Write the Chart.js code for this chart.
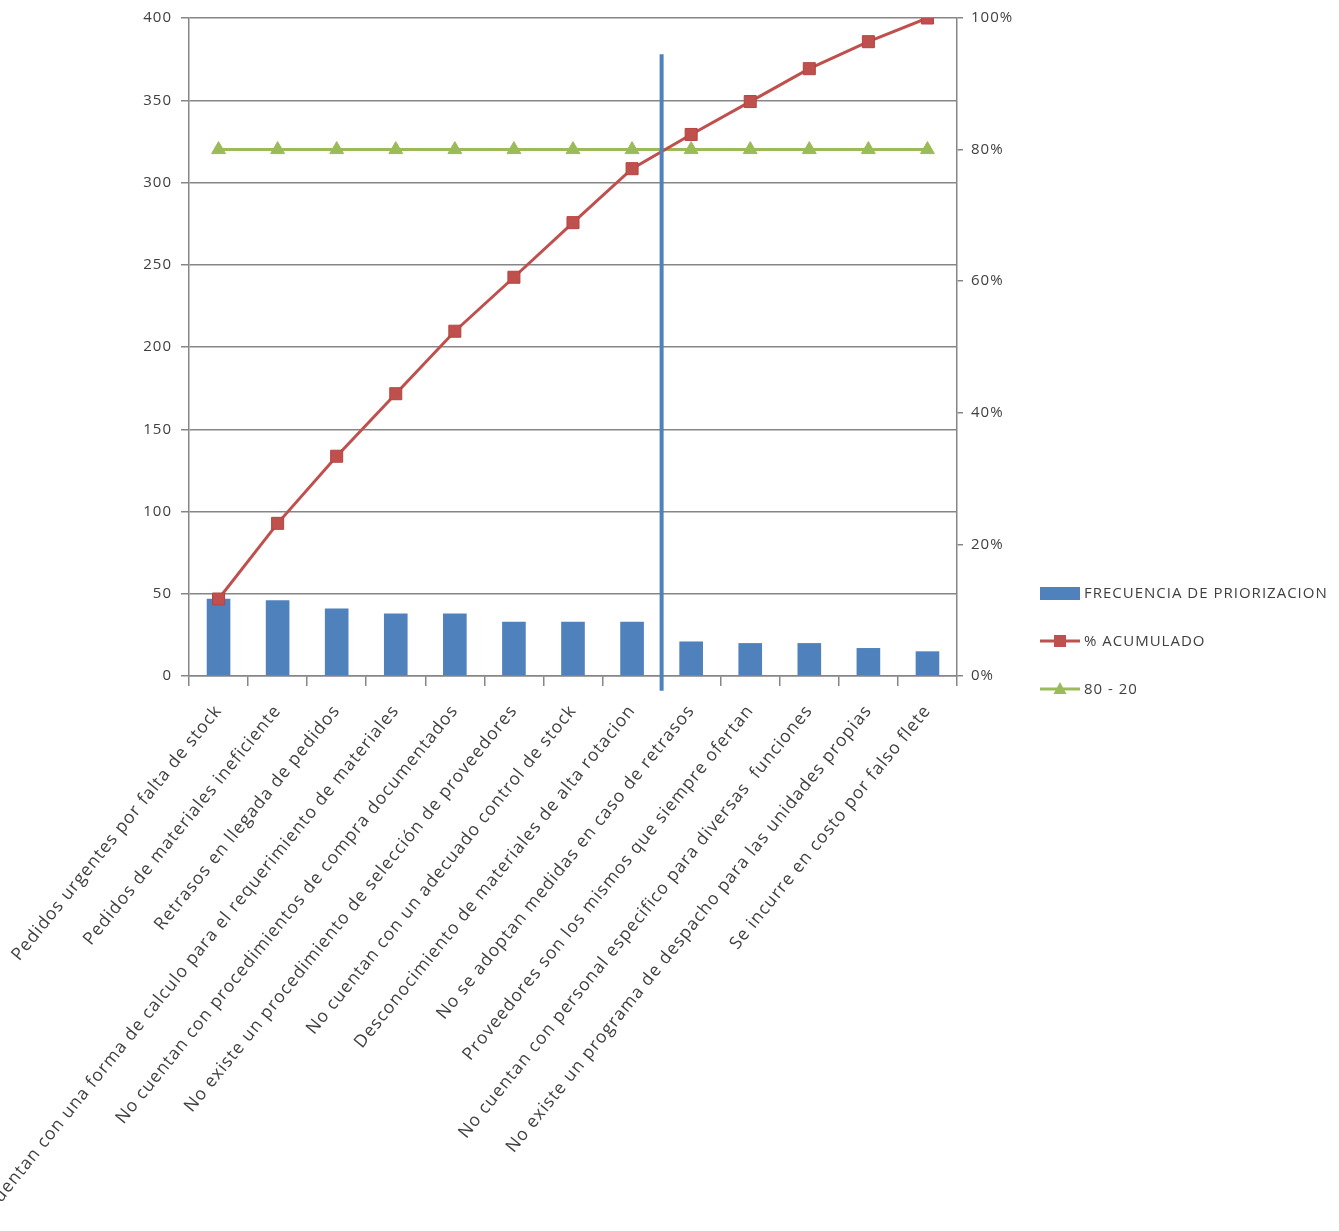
<!DOCTYPE html>
<html><head><meta charset="utf-8">
<script src="https://cdn.jsdelivr.net/npm/chart.js@4.4.1/dist/chart.umd.min.js"></script>
<style>html,body{margin:0;padding:0;background:#fff;} #wrap{width:1339px;height:1231px;position:relative;}</style>
</head><body><div id="wrap"><canvas id="c"></canvas></div>
<script>
const categories = [
  "Pedidos urgentes por falta de stock",
  "Pedidos de materiales ineficiente",
  "Retrasos en llegada de pedidos",
  "No cuentan con una forma de calculo para el requerimiento de materiales",
  "No cuentan con procedimientos de compra documentados",
  "No existe un procedimiento de selección de proveedores",
  "No cuentan con un adecuado control de stock",
  "Desconocimiento de materiales de alta rotacion",
  "No se adoptan medidas en caso de retrasos",
  "Proveedores son los mismos que siempre ofertan",
  "No cuentan con personal especifico para diversas  funciones",
  "No existe un programa de despacho para las unidades propias",
  "Se incurre en costo por falso flete"
];
const frequency = [47, 46, 41, 38, 38, 33, 33, 33, 21, 20, 20, 17, 15];
const cumulativePct = [11.7, 23.2, 33.4, 42.9, 52.4, 60.6, 68.9, 77.1, 82.3, 87.3, 92.3, 96.4, 100];
const threshold = [80, 80, 80, 80, 80, 80, 80, 80, 80, 80, 80, 80, 80];
const seriesNames = ["FRECUENCIA DE PRIORIZACION", "% ACUMULADO", "80 - 20"];
const leftTicks = {min: 0, max: 400, step: 50};
const rightTicks = {min: 0, max: 100, step: 20};
const cutoff = {position: 7.5, top: 378, bottom: -9};

const FONT = "'Open Sans', sans-serif";
const TXT = '#404040';
const GRID = '#868686';
const BLUE = '#4F81BD', RED = '#C0504D', GREEN = '#9BBB59';
const SPACING = '1px';

const spacingPlugin = {
  id: 'spacing',
  beforeLayout(chart) { chart.ctx.letterSpacing = SPACING; },
  beforeDraw(chart) { chart.ctx.letterSpacing = SPACING; }
};

const cutoffPlugin = {
  id: 'cutoff',
  afterDatasetsDraw(chart) {
    const x = chart.scales.x.getPixelForValue(cutoff.position);
    const yT = chart.scales.y.getPixelForValue(cutoff.top);
    const yB = chart.scales.y.getPixelForValue(cutoff.bottom);
    const ctx = chart.ctx;
    ctx.save();
    ctx.strokeStyle = BLUE;
    ctx.lineWidth = 4;
    ctx.beginPath();
    ctx.moveTo(x, yT); ctx.lineTo(x, yB);
    ctx.stroke();
    ctx.restore();
  }
};

const legendPlugin = {
  id: 'xlLegend',
  afterDraw(chart) {
    const ctx = chart.ctx;
    const x0 = chart.chartArea.right + 83;
    const yStart = chart.chartArea.bottom - 83;
    const gap = 48;
    ctx.save();
    ctx.letterSpacing = SPACING;
    ctx.font = "15px " + FONT;
    ctx.fillStyle = TXT;
    ctx.textBaseline = 'middle';
    seriesNames.forEach((name, i) => {
      const y = yStart + i * gap;
      if (i === 0) {
        ctx.fillStyle = BLUE;
        ctx.fillRect(x0, y - 6, 40, 13);
      } else {
        const col = i === 1 ? RED : GREEN;
        ctx.strokeStyle = col; ctx.lineWidth = 3;
        ctx.beginPath(); ctx.moveTo(x0, y); ctx.lineTo(x0 + 40, y); ctx.stroke();
        ctx.fillStyle = col;
        const cx = x0 + 20;
        if (i === 1) {
          ctx.fillRect(cx - 6, y - 6, 12, 12);
        } else {
          ctx.beginPath();
          ctx.moveTo(cx, y - 7); ctx.lineTo(cx + 6.5, y + 5); ctx.lineTo(cx - 6.5, y + 5); ctx.closePath(); ctx.fill();
        }
      }
      ctx.fillStyle = TXT;
      ctx.fillText(name, x0 + 44, y + 1);
    });
    ctx.restore();
  }
};

new Chart(document.getElementById('c'), {
  data: {
    labels: categories,
    datasets: [
      {type: 'bar', label: seriesNames[0], data: frequency, backgroundColor: BLUE, yAxisID: 'y',
       barPercentage: 0.4, categoryPercentage: 1, order: 3},
      {type: 'line', label: seriesNames[1], data: cumulativePct, yAxisID: 'y1', borderColor: RED, borderWidth: 3,
       pointStyle: 'rect', pointRadius: 8.5, pointBackgroundColor: RED, pointBorderColor: '#B54441', pointBorderWidth: 1,
       tension: 0, order: 1},
      {type: 'line', label: seriesNames[2], data: threshold, yAxisID: 'y1', borderColor: GREEN, borderWidth: 3,
       pointStyle: 'triangle', pointRadius: 8, pointBackgroundColor: GREEN, pointBorderColor: GREEN, pointBorderWidth: 1,
       tension: 0, order: 2}
    ]
  },
  options: {
    responsive: true,
    maintainAspectRatio: false,
    animation: false,
    layout: {padding: {top: 18, right: 302, left: 0, bottom: 0}},
    plugins: {legend: {display: false}, tooltip: {enabled: false}},
    scales: {
      x: {
        grid: {display: true, drawOnChartArea: false, drawTicks: true, tickLength: 10, color: GRID, lineWidth: 1.5, offset: true},
        border: {color: GRID, width: 1.5},
        ticks: {autoSkip: false, minRotation: 51, maxRotation: 51, font: {family: FONT, size: 17.5}, color: TXT, padding: 15},
        afterFit(s) { s.height = 555; s.paddingLeft = 0; s.paddingRight = 0; }
      },
      y: {
        position: 'left', min: leftTicks.min, max: leftTicks.max,
        ticks: {stepSize: leftTicks.step, font: {family: FONT, size: 15}, color: TXT, padding: 9},
        grid: {color: GRID, lineWidth: 1.5, tickLength: 8},
        border: {color: GRID, width: 1.5},
        afterFit(s) { s.width = 189; }
      },
      y1: {
        position: 'right', min: rightTicks.min, max: rightTicks.max,
        ticks: {stepSize: rightTicks.step, font: {family: FONT, size: 15}, color: TXT, padding: 8,
                callback: v => v + '%'},
        grid: {drawOnChartArea: false, color: GRID, lineWidth: 1.5, tickLength: 6},
        border: {color: GRID, width: 1.5},
        afterFit(s) { s.width = 80; }
      }
    }
  },
  plugins: [spacingPlugin, cutoffPlugin, legendPlugin]
});
</script></body></html>
